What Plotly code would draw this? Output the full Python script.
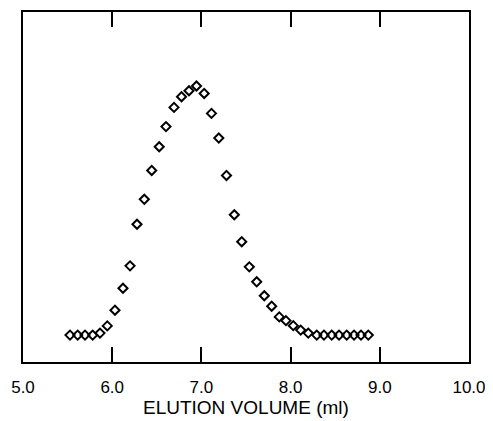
import plotly.graph_objects as go

elution_ml = [5.527, 5.613, 5.695, 5.781, 5.863, 5.945, 6.031, 6.121, 6.200, 6.278,
              6.360, 6.443, 6.527, 6.603, 6.693, 6.777, 6.861, 6.945, 7.031, 7.113,
              7.195, 7.281, 7.369, 7.452, 7.537, 7.620, 7.705, 7.788, 7.873, 7.948,
              8.030, 8.113, 8.198, 8.293, 8.374, 8.461, 8.543, 8.629, 8.711, 8.789, 8.871]
signal = [0.000, 0.000, 0.000, 0.000, 0.008, 0.037, 0.100, 0.188, 0.278, 0.445,
          0.545, 0.661, 0.756, 0.837, 0.914, 0.957, 0.981, 1.000, 0.970, 0.890,
          0.791, 0.641, 0.483, 0.375, 0.274, 0.214, 0.158, 0.116, 0.073, 0.058,
          0.038, 0.020, 0.008, 0.000, 0.000, 0.000, 0.000, 0.000, 0.000, 0.000, 0.000]
x_ticks = [5.0, 6.0, 7.0, 8.0, 9.0, 10.0]
x_tick_labels = ["5.0", "6.0", "7.0", "8.0", "9.0", "10.0"]
x_title = "ELUTION VOLUME (ml)"

fig = go.Figure()
fig.add_trace(go.Scatter(
    x=elution_ml, y=signal, mode="markers",
    marker=dict(symbol="diamond-open", size=7, color="black", line=dict(width=2, color="black")),
    showlegend=False,
))

tick_font = dict(family="Liberation Sans", size=17, color="black")
title_font = dict(family="Liberation Sans", size=19, color="black")
fig.update_layout(
    width=485, height=413,
    margin=dict(l=15, r=24, t=4, b=59),
    paper_bgcolor="white", plot_bgcolor="white",
    font=tick_font,
    xaxis=dict(
        range=[5.0, 10.0], tickvals=x_ticks, ticktext=x_tick_labels,
        ticks="inside", ticklen=15, tickwidth=1.5, tickcolor="black",
        showline=True, linecolor="black", linewidth=1.5, mirror="ticks",
        showgrid=False, zeroline=False, automargin=False,
        tickfont=tick_font, ticklabelstandoff=9,
    ),
    yaxis=dict(
        range=[-0.108, 1.297], showticklabels=False, ticks="",
        showline=True, linecolor="black", linewidth=1.5, mirror=True,
        showgrid=False, zeroline=False, automargin=False,
    ),
    annotations=[dict(
        text=x_title, xref="paper", yref="paper", x=0.5, y=0,
        xanchor="center", yanchor="middle", yshift=-45,
        showarrow=False, font=title_font,
    )],
)
fig.write_html("out.html")
